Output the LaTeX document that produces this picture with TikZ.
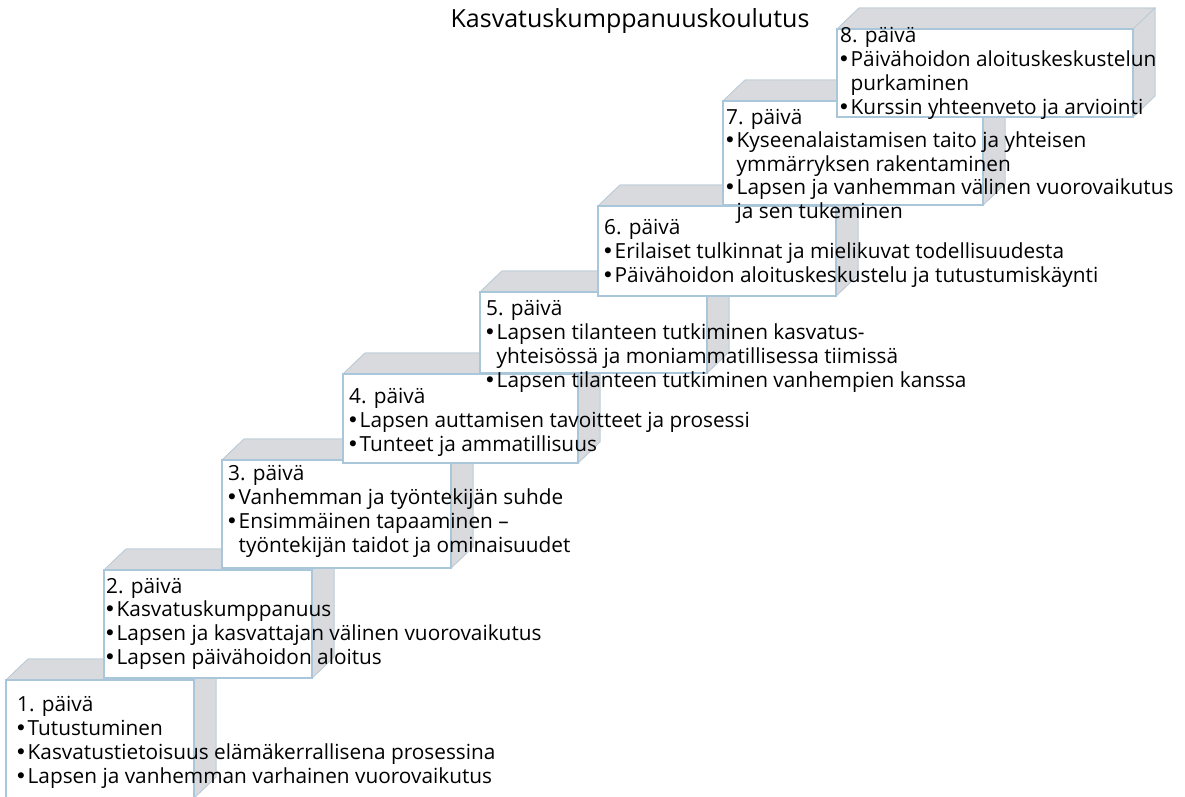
\documentclass[tikz,border=0pt]{standalone}
\usepackage{fontspec}
\setmainfont{Open Sans}
\newfontfamily\bulfont{DejaVu Sans}
\definecolor{facegrey}{HTML}{D9DADD}
\definecolor{edgeblue}{HTML}{A9C6DA}
\definecolor{faceedge}{HTML}{B9C9D6}
\tikzset{
  txt/.style={anchor=base west, inner sep=0pt, text height=15pt, text depth=4pt, font=\fontsize{20.8}{24}\selectfont},
  face/.style={fill=facegrey, draw=faceedge, line width=0.7pt},
  front/.style={fill=white, draw=edgeblue, line width=2.2pt},
}
% #1 left, #2 top, #3 right, #4 bottom
\newcommand\cubestep[4]{%
  \fill[face] (#3,#2) -- ({#3+22},{#2-21}) -- ({#3+22},{#4-21}) -- (#3,#4) -- cycle;
  \fill[face] (#1,#2) -- ({#1+22},{#2-21}) -- ({#3+22},{#2-21}) -- (#3,#2) -- cycle;
  \draw[face] (#3,#2) -- ({#3+22},{#2-21}) -- ({#3+22},{#4-21}) -- (#3,#4) -- cycle;
  \draw[face] (#1,#2) -- ({#1+22},{#2-21}) -- ({#3+22},{#2-21});
  \draw[front] (#1,#2) rectangle (#3,#4);
}
% #1 name, #2 x, #3 first baseline, #4 spacing, #5 lines
\newcommand\daytext[5]{%
  \foreach \t [count=\i from 0] in {#5} \node[txt] (#1-\i) at (#2,{#3+#4*\i}) {\t};
}
\newcommand\bul{\hbox to 10.5pt{\hss{\bulfont •}\hss\hskip 3pt}}
\newcommand\ind{\hspace{10.5pt}}
\begin{document}
\begin{tikzpicture}[x=1pt,y=-1pt]
\useasboundingbox (0,0) rectangle (1185,796);
\clip (0,0) rectangle (1185,796);
\node[anchor=base, inner sep=0pt, font=\fontsize{25}{30}\selectfont] (title) at (630,27) {Kasvatuskumppanuuskoulutus};
% day 1
\cubestep{6}{680}{194}{798}
\daytext{d1}{17}{711}{24}{1. päivä,\bul Tutustuminen,\bul Kasvatustietoisuus elämäkerrallisena prosessina,\bul Lapsen ja vanhemman varhainen vuorovaikutus}
% day 2
\cubestep{104}{570}{312}{678}
\daytext{d2}{106}{593}{23.7}{2. päivä,\bul Kasvatuskumppanuus,\bul Lapsen ja kasvattajan välinen vuorovaikutus,\bul Lapsen päivähoidon aloitus}
% day 3
\cubestep{222}{460}{451}{568}
\daytext{d3}{228}{480}{24}{3. päivä,\bul Vanhemman ja työntekijän suhde,\bul Ensimmäinen tapaaminen –,\ind työntekijän taidot ja ominaisuudet}
% day 4
\cubestep{343}{374}{578}{463}
\daytext{d4}{349}{403}{24}{4. päivä,\bul Lapsen auttamisen tavoitteet ja prosessi,\bul Tunteet ja ammatillisuus}
% day 5
\cubestep{480}{292}{707}{373}
\daytext{d5}{486}{315}{24.3}{5. päivä,\bul Lapsen tilanteen tutkiminen kasvatus-,\ind yhteisössä ja moniammatillisessa tiimissä,\bul Lapsen tilanteen tutkiminen vanhempien kanssa}
% day 6
\cubestep{598}{206}{836}{296}
\daytext{d6}{604}{234}{24}{6. päivä,\bul Erilaiset tulkinnat ja mielikuvat todellisuudesta,\bul Päivähoidon aloituskeskustelu ja tutustumiskäynti}
% day 7
\cubestep{723}{101}{983}{205}
\daytext{d7}{726}{124}{23.5}{7. päivä,\bul Kyseenalaistamisen taito ja yhteisen,\ind ymmärryksen rakentaminen,\bul Lapsen ja vanhemman välinen vuorovaikutus,\ind ja sen tukeminen}
% day 8
\cubestep{837}{29}{1133}{117}
\daytext{d8}{840}{42}{24}{8. päivä,\bul Päivähoidon aloituskeskustelun,\ind purkaminen,\bul Kurssin yhteenveto ja arviointi}
\end{tikzpicture}
\end{document}
